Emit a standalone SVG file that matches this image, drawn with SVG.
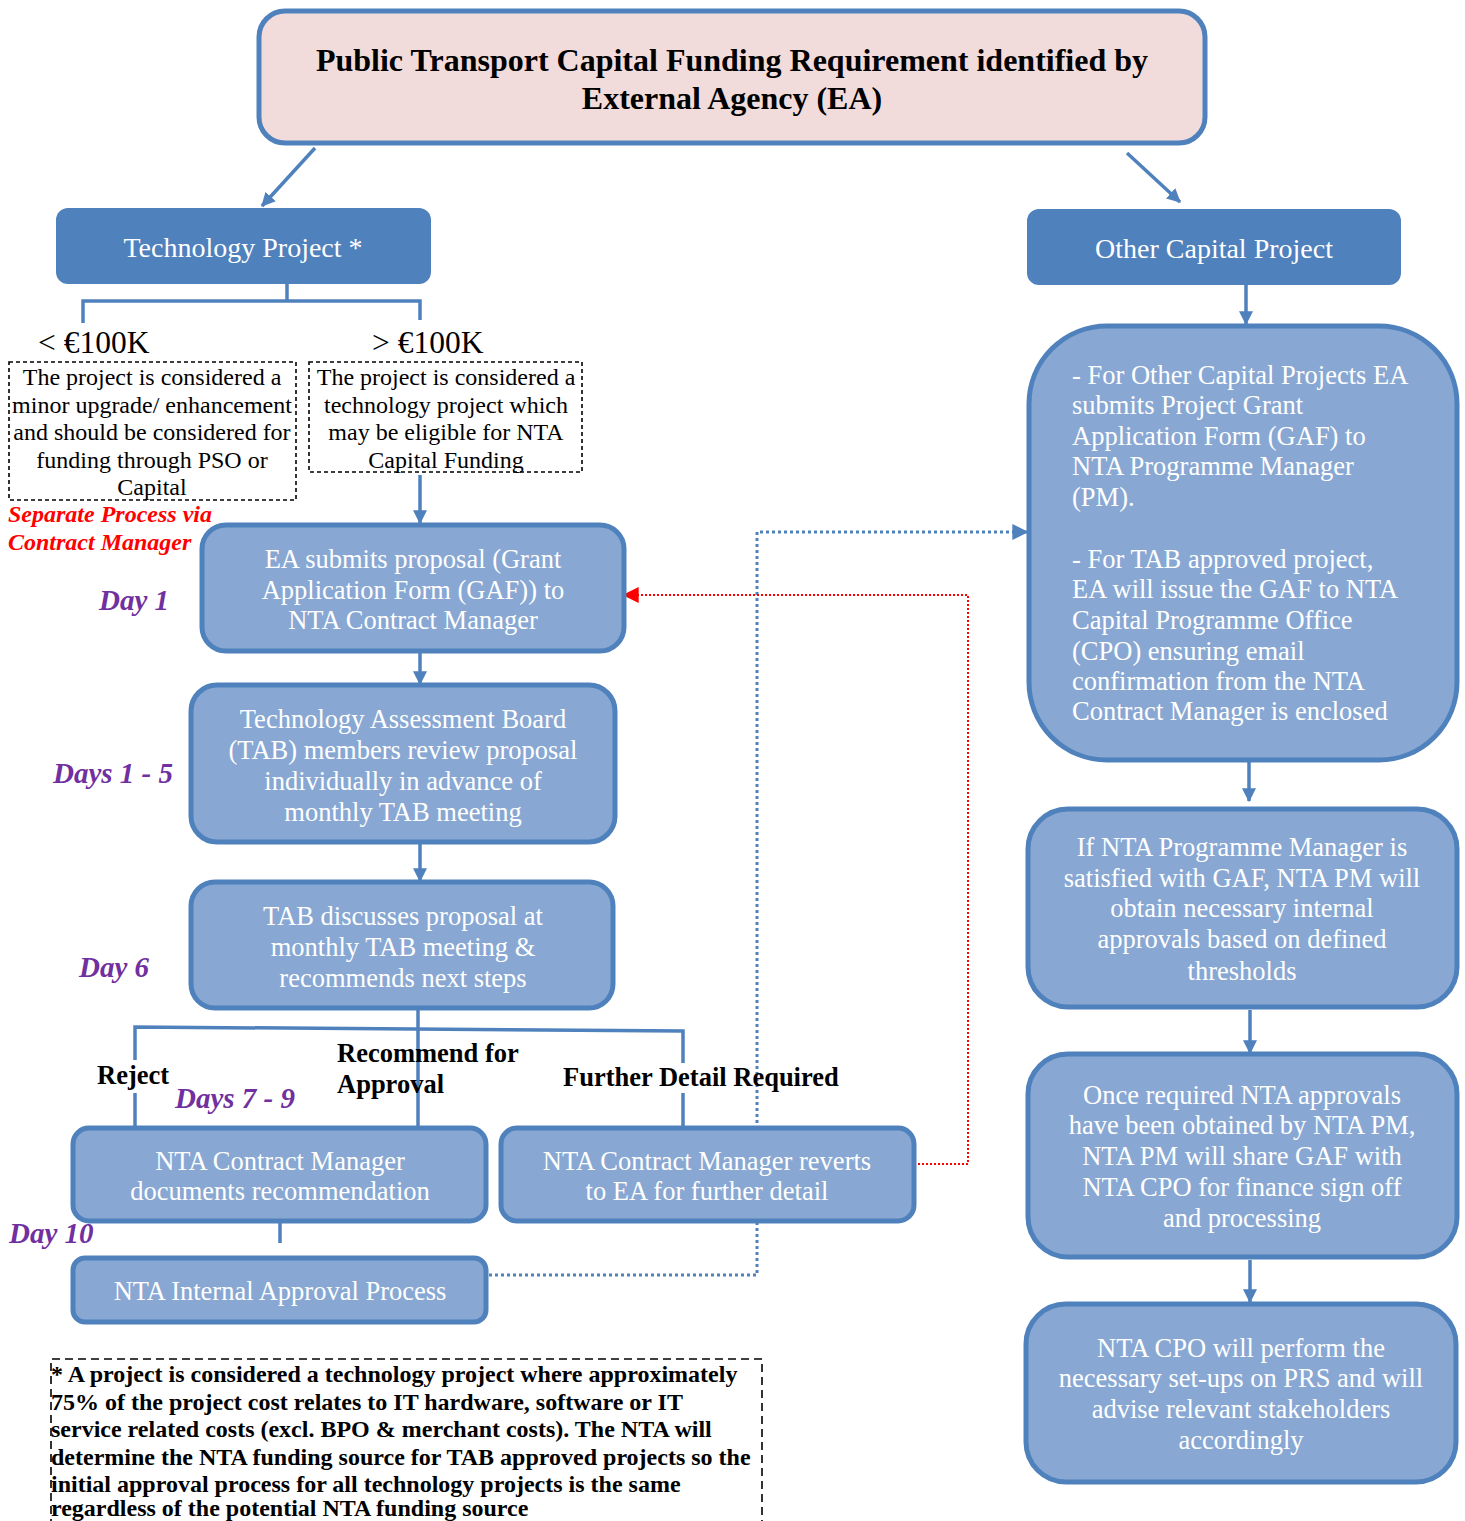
<svg xmlns="http://www.w3.org/2000/svg" width="1465" height="1521" viewBox="0 0 1465 1521">
<defs>
<marker id="ab" viewBox="0 0 12 12" refX="11" refY="6" markerWidth="14" markerHeight="14" markerUnits="userSpaceOnUse" orient="auto"><path d="M0,0 L12,6 L0,12 z" fill="#4F81BD"/></marker>
<marker id="ar" viewBox="0 0 12 12" refX="11" refY="6" markerWidth="16" markerHeight="16" markerUnits="userSpaceOnUse" orient="auto"><path d="M0,0 L12,6 L0,12 z" fill="#FF0000"/></marker>
<marker id="abd" viewBox="0 0 12 12" refX="11" refY="6" markerWidth="16" markerHeight="16" markerUnits="userSpaceOnUse" orient="auto"><path d="M0,0 L12,6 L0,12 z" fill="#4F81BD"/></marker>
</defs>
<style>
text{font-family:"Liberation Serif","Times New Roman",serif}
.t{fill:#fff;font-size:26.5px;text-anchor:middle}
.tl{fill:#fff;font-size:26.5px}
.hd{fill:#fff;font-size:28px;text-anchor:middle}
.box{fill:#88A8D3;stroke:#4F81BD;stroke-width:5}
.dark{fill:#4F81BD}
.dash{fill:none;stroke:#000;stroke-width:1.6;stroke-dasharray:4 3}
.k{font-size:24px;text-anchor:middle;fill:#000}
.day{fill:#7030A0;font-size:29px;font-style:italic;font-weight:bold}
.lbl{font-size:26.5px;font-weight:bold;fill:#000}
.c{fill:none;stroke:#4F81BD;stroke-width:3.5}
.red{font-size:24px;font-style:italic;font-weight:bold;fill:#FF0000}
.eu{font-size:31.5px;fill:#000}
</style>

<g id="connectors">
<line class="c" x1="315" y1="148" x2="262" y2="206" marker-end="url(#ab)"/>
<line class="c" x1="1127" y1="153" x2="1180" y2="202" marker-end="url(#ab)"/>
<polyline class="c" points="287,284 287,302"/>
<polyline class="c" points="83,323 83,301 420,301 420,320"/>
<line class="c" x1="420" y1="475" x2="420" y2="523" marker-end="url(#ab)"/>
<line class="c" x1="420" y1="652" x2="420" y2="684" marker-end="url(#ab)"/>
<line class="c" x1="420" y1="843" x2="420" y2="881" marker-end="url(#ab)"/>
<line class="c" x1="418" y1="1008" x2="418" y2="1128"/>
<polyline class="c" points="135,1060 135,1027 683,1031 683,1063"/>
<line class="c" x1="135" y1="1093" x2="135" y2="1128"/>
<line class="c" x1="683" y1="1093" x2="683" y2="1128"/>
<line class="c" x1="280" y1="1203" x2="280" y2="1243"/>
<line class="c" x1="1246" y1="285" x2="1246" y2="324" marker-end="url(#ab)"/>
<line class="c" x1="1249" y1="762" x2="1249" y2="801" marker-end="url(#ab)"/>
<line class="c" x1="1250" y1="1010" x2="1250" y2="1053" marker-end="url(#ab)"/>
<line class="c" x1="1250" y1="1260" x2="1250" y2="1302" marker-end="url(#ab)"/>
<polyline points="489,1275 757,1275 757,532 1027,532" fill="none" stroke="#4F81BD" stroke-width="3" stroke-dasharray="3 3" marker-end="url(#abd)"/>
<polyline points="918,1164 968,1164 968,595 624,595" fill="none" stroke="#FF0000" stroke-width="2" stroke-dasharray="2 2" marker-end="url(#ar)"/>
</g>

<g id="title">
<rect x="259" y="11" width="946" height="132" rx="26" fill="#F2DCDB" stroke="#4F81BD" stroke-width="5"/>
<text x="732" y="71" font-size="32" font-weight="bold" text-anchor="middle" fill="#000">Public Transport Capital Funding Requirement identified by</text>
<text x="732" y="109" font-size="32" font-weight="bold" text-anchor="middle" fill="#000">External Agency (EA)</text>
</g>

<g id="tech">
<rect class="dark" x="56" y="208" width="375" height="76" rx="12"/>
<text class="hd" x="243" y="257">Technology Project *</text>
</g>

<g id="other">
<rect class="dark" x="1027" y="209" width="374" height="76" rx="12"/>
<text class="hd" x="1214" y="258">Other Capital Project</text>
</g>

<g id="under100">
<text class="eu" x="38" y="353">&lt; €100K</text>
<rect class="dash" x="9" y="362" width="287" height="138"/>
<text class="k" x="152" y="385">The project is considered a</text>
<text class="k" x="152" y="413">minor upgrade/ enhancement</text>
<text class="k" x="152" y="440">and should be considered for</text>
<text class="k" x="152" y="468">funding through PSO or</text>
<text class="k" x="152" y="495">Capital</text>
<text class="red" x="8" y="522">Separate Process via</text>
<text class="red" x="8" y="550">Contract Manager</text>
</g>

<g id="over100">
<text class="eu" x="372" y="353">&gt; €100K</text>
<rect class="dash" x="309" y="362" width="273" height="110"/>
<text class="k" x="446" y="385">The project is considered a</text>
<text class="k" x="446" y="413">technology project which</text>
<text class="k" x="446" y="440">may be eligible for NTA</text>
<text class="k" x="446" y="468">Capital Funding</text>
</g>

<g id="ea-submits">
<rect class="box" x="202" y="525" width="422" height="126" rx="24"/>
<text class="t" x="413" y="568">EA submits proposal (Grant</text>
<text class="t" x="413" y="599">Application Form (GAF)) to</text>
<text class="t" x="413" y="629">NTA Contract Manager</text>
<text class="day" x="99" y="610">Day 1</text>
</g>

<g id="tab-review">
<rect class="box" x="191" y="685" width="424" height="157" rx="26"/>
<text class="t" x="403" y="728">Technology Assessment Board</text>
<text class="t" x="403" y="759">(TAB) members review proposal</text>
<text class="t" x="403" y="790">individually in advance of</text>
<text class="t" x="403" y="821">monthly TAB meeting</text>
<text class="day" x="53" y="783">Days 1 - 5</text>
</g>

<g id="tab-discuss">
<rect class="box" x="191" y="882" width="422" height="126" rx="24"/>
<text class="t" x="403" y="925">TAB discusses proposal at</text>
<text class="t" x="403" y="956">monthly TAB meeting &amp;</text>
<text class="t" x="403" y="987">recommends next steps</text>
<text class="day" x="79" y="977">Day 6</text>
</g>

<g id="labels">
<text class="lbl" x="97" y="1084">Reject</text>
<text class="lbl" x="337" y="1062">Recommend for</text>
<text class="lbl" x="337" y="1093">Approval</text>
<text class="lbl" x="563" y="1086">Further Detail Required</text>
<text class="day" x="175" y="1108">Days 7 - 9</text>
</g>

<g id="documents">
<rect class="box" x="73" y="1128" width="413" height="93" rx="16"/>
<text class="t" x="280" y="1170">NTA Contract Manager</text>
<text class="t" x="280" y="1200">documents recommendation</text>
<text class="day" x="9" y="1243">Day 10</text>
</g>

<g id="reverts">
<rect class="box" x="501" y="1128" width="413" height="93" rx="16"/>
<text class="t" x="707" y="1170">NTA Contract Manager reverts</text>
<text class="t" x="707" y="1200">to EA for further detail</text>
</g>

<g id="internal">
<rect class="box" x="73" y="1258" width="413" height="64" rx="12"/>
<text class="t" x="280" y="1300">NTA Internal Approval Process</text>
</g>

<g id="gaf">
<rect class="box" x="1029" y="326" width="428" height="434" rx="78"/>
<text class="tl" x="1072" y="384">- For Other Capital Projects EA</text>
<text class="tl" x="1072" y="414">submits Project Grant</text>
<text class="tl" x="1072" y="445">Application Form (GAF) to</text>
<text class="tl" x="1072" y="475">NTA Programme Manager</text>
<text class="tl" x="1072" y="506">(PM).</text>
<text class="tl" x="1072" y="568">- For TAB approved project,</text>
<text class="tl" x="1072" y="598">EA will issue the GAF to NTA</text>
<text class="tl" x="1072" y="629">Capital Programme Office</text>
<text class="tl" x="1072" y="660">(CPO) ensuring email</text>
<text class="tl" x="1072" y="690">confirmation from the NTA</text>
<text class="tl" x="1072" y="720">Contract Manager is enclosed</text>
</g>

<g id="pm-approvals">
<rect class="box" x="1028" y="809" width="429" height="198" rx="40"/>
<text class="t" x="1242" y="856">If NTA Programme Manager is</text>
<text class="t" x="1242" y="887">satisfied with GAF, NTA PM will</text>
<text class="t" x="1242" y="917">obtain necessary internal</text>
<text class="t" x="1242" y="948">approvals based on defined</text>
<text class="t" x="1242" y="980">thresholds</text>
</g>

<g id="cpo-share">
<rect class="box" x="1028" y="1054" width="429" height="203" rx="40"/>
<text class="t" x="1242" y="1104">Once required NTA approvals</text>
<text class="t" x="1242" y="1134">have been obtained by NTA PM,</text>
<text class="t" x="1242" y="1165">NTA PM will share GAF with</text>
<text class="t" x="1242" y="1196">NTA CPO for finance sign off</text>
<text class="t" x="1242" y="1227">and processing</text>
</g>

<g id="cpo-setup">
<rect class="box" x="1026" y="1304" width="430" height="178" rx="40"/>
<text class="t" x="1241" y="1357">NTA CPO will perform the</text>
<text class="t" x="1241" y="1387">necessary set-ups on PRS and will</text>
<text class="t" x="1241" y="1418">advise relevant stakeholders</text>
<text class="t" x="1241" y="1449">accordingly</text>
</g>

<g id="footnote">
<polyline points="51,1540 51,1359 762,1359 762,1540" fill="none" stroke="#000" stroke-width="1.6" stroke-dasharray="8 5"/>
<g font-size="24" font-weight="bold" fill="#000">
<text x="51" y="1382">* A project is considered a technology project where approximately</text>
<text x="51" y="1410">75% of the project cost relates to IT hardware, software or IT</text>
<text x="51" y="1437">service related costs (excl. BPO &amp; merchant costs). The NTA will</text>
<text x="51" y="1465">determine the NTA funding source for TAB approved projects so the</text>
<text x="51" y="1492">initial approval process for all technology projects is the same</text>
<text x="51" y="1516">regardless of the potential NTA funding source</text>
</g>
</g>
</svg>
